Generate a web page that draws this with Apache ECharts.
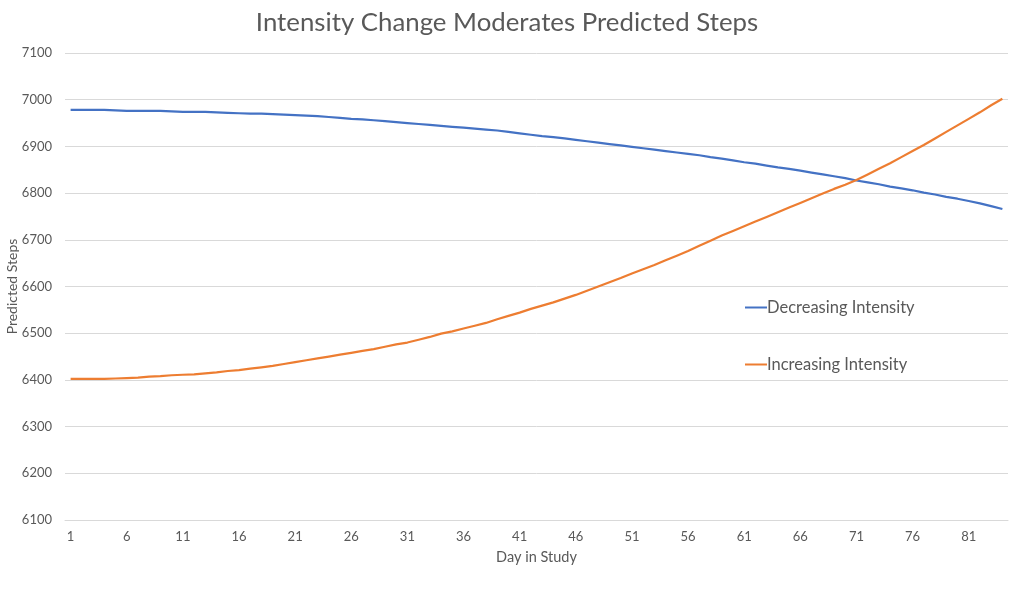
<!DOCTYPE html>
<html>
<head>
<meta charset="utf-8">
<script src="https://cdn.jsdelivr.net/npm/echarts@6/dist/echarts.min.js"></script>
<style>
html,body{margin:0;padding:0;background:#fff;}
#chart{width:1014px;height:612px;}
</style>
</head>
<body>
<div id="chart"></div>
<script>
var days = [];
for (var i = 1; i <= 84; i++) days.push(String(i));

var decreasing = [
  6978,6978,6978,6978,6977, 6976,6976,6976,6976,6975,
  6974,6974,6974,6973,6972, 6971,6970,6970,6969,6968,
  6967,6966,6965,6963,6961, 6959,6958,6956,6954,6952,
  6950,6948,6946,6944,6942, 6940,6938,6936,6934,6931,
  6928,6925,6922,6920,6917, 6914,6911,6908,6905,6902,
  6899,6896,6893,6890,6887, 6884,6881,6877,6874,6870,
  6866,6863,6859,6855,6852, 6848,6844,6840,6836,6832,
  6827,6823,6819,6814,6810, 6806,6801,6797,6792,6788,
  6783,6778,6772,6766
];

var increasing = [
  6402,6402,6402,6402,6403, 6404,6405,6407,6408,6410,
  6411,6412,6414,6416,6419, 6421,6424,6427,6430,6434,
  6438,6442,6446,6450,6454, 6458,6462,6466,6471,6476,
  6480,6486,6492,6499,6504, 6510,6516,6522,6530,6537,
  6544,6552,6559,6566,6574, 6582,6591,6600,6609,6618,
  6628,6637,6646,6656,6666, 6676,6687,6698,6709,6719,
  6729,6739,6749,6759,6769, 6779,6789,6799,6809,6818,
  6828,6840,6852,6864,6877, 6890,6903,6917,6931,6945,
  6959,6973,6988,7002
];

var seriesNames = ['Decreasing Intensity', 'Increasing Intensity'];
var titleText = 'Intensity Change Moderates Predicted Steps';
var xName = 'Day in Study';
var yName = 'Predicted Steps';

var font = 'Lato, "Open Sans", sans-serif';
var chart = echarts.init(document.getElementById('chart'));
chart.setOption({
  backgroundColor: '#ffffff',
  animation: false,
  title: {
    text: titleText,
    left: 'center',
    top: 5,
    textStyle: {fontFamily: font, fontSize: 25.8, fontWeight: 'normal', color: '#595959'}
  },
  legend: {
    orient: 'vertical',
    left: 740,
    top: 294,
    itemGap: 40,
    itemWidth: 22,
    itemHeight: 18,
    icon: 'path://M0,9 L22,9 L22,11 L0,11 Z',
    textStyle: {fontFamily: font, fontSize: 16.5, color: '#595959', padding: [0,0,0,-5]},
    data: seriesNames
  },
  grid: {left: 65, right: 6, top: 53, bottom: 92, containLabel: false, outerBoundsMode: 'none'},
  xAxis: {
    type: 'category',
    data: days,
    boundaryGap: true,
    name: xName,
    nameLocation: 'middle',
    nameGap: 30,
    nameMoveOverlap: false,
    nameTextStyle: {fontFamily: font, fontSize: 14.5, color: '#595959'},
    axisLine: {lineStyle: {color: '#d9d9d9', width: 1}},
    axisTick: {show: false},
    axisLabel: {interval: 4, fontFamily: font, fontSize: 13, color: '#595959', margin: 10},
    splitLine: {show: false}
  },
  yAxis: {
    type: 'value',
    min: 6100,
    max: 7100,
    interval: 100,
    name: yName,
    nameLocation: 'middle',
    nameGap: 46,
    nameMoveOverlap: false,
    nameTextStyle: {fontFamily: font, fontSize: 14, color: '#595959'},
    axisLine: {show: false},
    axisTick: {show: false},
    axisLabel: {fontFamily: font, fontSize: 13, color: '#595959', margin: 13,
      formatter: function (v) { return String(v); }},
    splitLine: {lineStyle: {color: '#d9d9d9', width: 1}}
  },
  series: [
    {name: seriesNames[0], type: 'line', data: decreasing, showSymbol: false,
     lineStyle: {color: '#4472c4', width: 2.2}, itemStyle: {color: '#4472c4'}},
    {name: seriesNames[1], type: 'line', data: increasing, showSymbol: false,
     lineStyle: {color: '#ed7d31', width: 2.2}, itemStyle: {color: '#ed7d31'}}
  ]
});
</script>
</body>
</html>
